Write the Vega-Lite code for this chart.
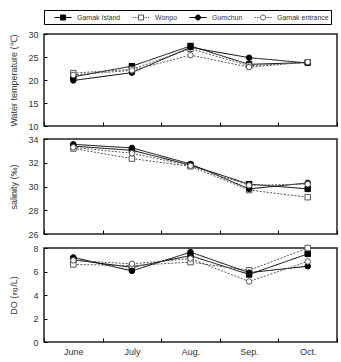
{
  "$schema": "https://vega.github.io/schema/vega-lite/v6.json",
  "padding": {"left": 8, "top": 9, "right": 5, "bottom": 0},
  "datasets": {
    "d": [
      {"month": "June", "site": "Gamak Island", "temp": 20.7, "sal": 33.4, "do": 7.0},
      {"month": "June", "site": "Wonpo", "temp": 21.5, "sal": 33.2, "do": 6.6},
      {"month": "June", "site": "Gumchun", "temp": 19.9, "sal": 33.55, "do": 7.2},
      {"month": "June", "site": "Gamak entrance", "temp": 21.1, "sal": 33.3, "do": 6.95},
      {"month": "July", "site": "Gamak Island", "temp": 23.0, "sal": 33.05, "do": 6.35},
      {"month": "July", "site": "Wonpo", "temp": 22.3, "sal": 32.35, "do": 6.5},
      {"month": "July", "site": "Gumchun", "temp": 21.6, "sal": 33.25, "do": 6.05},
      {"month": "July", "site": "Gamak entrance", "temp": 22.1, "sal": 32.8, "do": 6.65},
      {"month": "Aug.", "site": "Gamak Island", "temp": 27.4, "sal": 31.8, "do": 7.35},
      {"month": "Aug.", "site": "Wonpo", "temp": 26.8, "sal": 31.7, "do": 6.8},
      {"month": "Aug.", "site": "Gumchun", "temp": 27.1, "sal": 31.9, "do": 7.65},
      {"month": "Aug.", "site": "Gamak entrance", "temp": 25.4, "sal": 31.75, "do": 7.1},
      {"month": "Sep.", "site": "Gamak Island", "temp": 23.4, "sal": 30.2, "do": 5.75},
      {"month": "Sep.", "site": "Wonpo", "temp": 23.1, "sal": 29.7, "do": 6.1},
      {"month": "Sep.", "site": "Gumchun", "temp": 24.85, "sal": 29.8, "do": 5.9},
      {"month": "Sep.", "site": "Gamak entrance", "temp": 22.8, "sal": 30.1, "do": 5.15},
      {"month": "Oct.", "site": "Gamak Island", "temp": 23.8, "sal": 29.8, "do": 7.5},
      {"month": "Oct.", "site": "Wonpo", "temp": 23.8, "sal": 29.1, "do": 8.0},
      {"month": "Oct.", "site": "Gumchun", "temp": 23.7, "sal": 30.3, "do": 6.45},
      {"month": "Oct.", "site": "Gamak entrance", "temp": 23.9, "sal": 30.2, "do": 6.85}
    ]
  },
  "spacing": 2,
  "vconcat": [
    {
      "width": 293, "height": 92,
      "data": {"name": "d"},
      "encoding": {
        "x": {"field": "month", "type": "nominal", "sort": ["June", "July", "Aug.", "Sep.", "Oct."], "scale": {"type": "band", "paddingInner": 0, "paddingOuter": 0},
              "axis": {"title": null, "labels": false, "domain": false, "grid": false, "tickBand": "extent", "tickSize": -4, "tickColor": "#000"}},
        "y": {"field": "temp", "type": "quantitative", "scale": {"domain": [10, 30], "nice": false, "zero": false},
              "axis": {"values": [10, 15, 20, 25, 30], "title": "Water temperature (℃)", "domain": false, "grid": false, "tickSize": -3, "tickColor": "#000", "labelPadding": 9, "titleX": -26}}
      },
      "layer": [
        {"mark": {"type": "line", "strokeWidth": 1},
         "encoding": {
           "detail": {"field": "site", "type": "nominal"},
           "color": {"condition": {"test": "datum.site === 'Gamak Island' || datum.site === 'Gumchun'", "value": "#000"}, "value": "#555"},
           "strokeDash": {"condition": {"test": "datum.site === 'Gamak Island' || datum.site === 'Gumchun'", "value": [1, 0]}, "value": [2, 1.5]}
         }},
        {"mark": {"type": "point", "filled": true, "size": 30, "strokeWidth": 1, "opacity": 1},
         "encoding": {
           "shape": {"condition": {"test": "datum.site === 'Gamak Island' || datum.site === 'Wonpo'", "value": "square"}, "value": "circle"},
           "fill": {"condition": {"test": "datum.site === 'Gamak Island' || datum.site === 'Gumchun'", "value": "#000"}, "value": "#fff"},
           "stroke": {"condition": {"test": "datum.site === 'Gamak Island' || datum.site === 'Gumchun'", "value": "#000"}, "value": "#555"}
         }},
        {"mark": {"type": "point", "filled": true, "opacity": 0, "strokeWidth": 1},
         "encoding": {
           "shape": {"field": "site", "type": "nominal",
             "scale": {"domain": ["Gamak Island", "Wonpo", "Gumchun", "Gamak entrance"],
                       "range": ["M-1.7,0H1.7M-0.5,-0.5H0.5V0.5H-0.5Z",
                                 "M-1.7,0H-1.4M-1.2,0H-0.9M-0.7,0H-0.5M0.5,0H0.7M0.9,0H1.2M1.4,0H1.7M-0.5,-0.5H0.5V0.5H-0.5Z",
                                 "M-1.7,0H1.7M0.5,0A0.5,0.5,0,1,1,-0.5,0A0.5,0.5,0,1,1,0.5,0Z",
                                 "M-1.7,0H-1.4M-1.2,0H-0.9M-0.7,0H-0.5M0.5,0H0.7M0.9,0H1.2M1.4,0H1.7M0.5,0A0.5,0.5,0,1,1,-0.5,0A0.5,0.5,0,1,1,0.5,0Z"]},
             "legend": {"title": null, "orient": "none", "legendX": 0, "legendY": -24, "direction": "horizontal", "strokeColor": "#000", "fillColor": "#fff", "padding": 2,
               "symbolSize": 100, "symbolOffset": 11.5, "labelOffset": 8.5, "columnPadding": 3, "labelFontSize": 7, "labelFont": "Liberation Sans", "labelColor": "#333",
               "symbolOpacity": 1, "symbolStrokeWidth": 1}},
           "fill": {"field": "site", "type": "nominal",
             "scale": {"domain": ["Gamak Island", "Wonpo", "Gumchun", "Gamak entrance"], "range": ["#000", "#fff", "#000", "#fff"]},
             "legend": {"title": null, "orient": "none", "legendX": 0, "legendY": -24, "direction": "horizontal", "strokeColor": "#000", "fillColor": "#fff", "padding": 2,
               "symbolSize": 100, "symbolOffset": 11.5, "labelOffset": 8.5, "columnPadding": 3, "labelFontSize": 7, "labelFont": "Liberation Sans", "labelColor": "#333",
               "symbolOpacity": 1, "symbolStrokeWidth": 1}},
           "stroke": {"field": "site", "type": "nominal",
             "scale": {"domain": ["Gamak Island", "Wonpo", "Gumchun", "Gamak entrance"], "range": ["#000", "#555", "#000", "#555"]},
             "legend": {"title": null, "orient": "none", "legendX": 0, "legendY": -24, "direction": "horizontal", "strokeColor": "#000", "fillColor": "#fff", "padding": 2,
               "symbolSize": 100, "symbolOffset": 11.5, "labelOffset": 8.5, "columnPadding": 3, "labelFontSize": 7, "labelFont": "Liberation Sans", "labelColor": "#333",
               "symbolOpacity": 1, "symbolStrokeWidth": 1}}
         }}
      ]
    },
    {
      "width": 293, "height": 95,
      "data": {"name": "d"},
      "encoding": {
        "x": {"field": "month", "type": "nominal", "sort": ["June", "July", "Aug.", "Sep.", "Oct."], "scale": {"type": "band", "paddingInner": 0, "paddingOuter": 0},
              "axis": {"title": null, "labels": false, "domain": false, "grid": false, "tickBand": "extent", "tickSize": -4, "tickColor": "#000"}},
        "y": {"field": "sal", "type": "quantitative", "scale": {"domain": [26, 34], "nice": false, "zero": false},
              "axis": {"values": [26, 28, 30, 32, 34], "title": "salinity (‰)", "domain": false, "grid": false, "tickSize": -3, "tickColor": "#000", "labelPadding": 9, "titleX": -26}}
      },
      "layer": [
        {"mark": {"type": "line", "strokeWidth": 1},
         "encoding": {
           "detail": {"field": "site", "type": "nominal"},
           "color": {"condition": {"test": "datum.site === 'Gamak Island' || datum.site === 'Gumchun'", "value": "#000"}, "value": "#555"},
           "strokeDash": {"condition": {"test": "datum.site === 'Gamak Island' || datum.site === 'Gumchun'", "value": [1, 0]}, "value": [2, 1.5]}
         }},
        {"mark": {"type": "point", "filled": true, "size": 30, "strokeWidth": 1, "opacity": 1},
         "encoding": {
           "shape": {"condition": {"test": "datum.site === 'Gamak Island' || datum.site === 'Wonpo'", "value": "square"}, "value": "circle"},
           "fill": {"condition": {"test": "datum.site === 'Gamak Island' || datum.site === 'Gumchun'", "value": "#000"}, "value": "#fff"},
           "stroke": {"condition": {"test": "datum.site === 'Gamak Island' || datum.site === 'Gumchun'", "value": "#000"}, "value": "#555"}
         }}
      ]
    },
    {
      "width": 293, "height": 94,
      "data": {"name": "d"},
      "encoding": {
        "x": {"field": "month", "type": "nominal", "sort": ["June", "July", "Aug.", "Sep.", "Oct."], "scale": {"type": "band", "paddingInner": 0, "paddingOuter": 0},
              "axis": {"title": null, "labelAngle": 0, "domain": false, "grid": false, "tickBand": "extent", "tickSize": -4, "tickColor": "#000", "labelPadding": 9}},
        "y": {"field": "do", "type": "quantitative", "scale": {"domain": [0, 8], "nice": false},
              "axis": {"values": [0, 2, 4, 6, 8], "title": "DO (㎎/L)", "domain": false, "grid": false, "tickSize": -3, "tickColor": "#000", "labelPadding": 9, "titleX": -26}}
      },
      "layer": [
        {"mark": {"type": "line", "strokeWidth": 1},
         "encoding": {
           "detail": {"field": "site", "type": "nominal"},
           "color": {"condition": {"test": "datum.site === 'Gamak Island' || datum.site === 'Gumchun'", "value": "#000"}, "value": "#555"},
           "strokeDash": {"condition": {"test": "datum.site === 'Gamak Island' || datum.site === 'Gumchun'", "value": [1, 0]}, "value": [2, 1.5]}
         }},
        {"mark": {"type": "point", "filled": true, "size": 30, "strokeWidth": 1, "opacity": 1},
         "encoding": {
           "shape": {"condition": {"test": "datum.site === 'Gamak Island' || datum.site === 'Wonpo'", "value": "square"}, "value": "circle"},
           "fill": {"condition": {"test": "datum.site === 'Gamak Island' || datum.site === 'Gumchun'", "value": "#000"}, "value": "#fff"},
           "stroke": {"condition": {"test": "datum.site === 'Gamak Island' || datum.site === 'Gumchun'", "value": "#000"}, "value": "#555"}
         }}
      ]
    }
  ],
  "config": {
    "view": {"stroke": "#222", "strokeWidth": 1.5},
    "axis": {"labelFont": "Liberation Sans", "titleFont": "Liberation Sans", "labelFontSize": 9, "titleFontSize": 9, "titleFontWeight": "normal", "labelColor": "#333", "titleColor": "#333"}
  }
}
